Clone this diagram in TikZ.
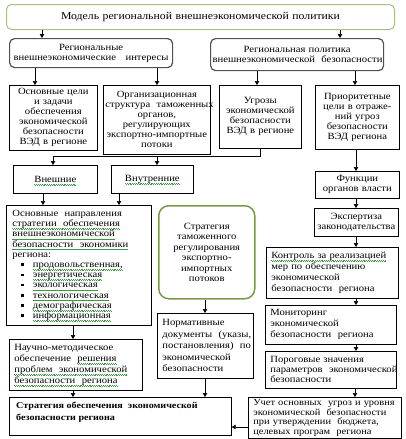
\documentclass[tikz,border=0pt]{standalone}
\usepackage{fontspec}
\setmainfont[FakeStretch=1.12]{Liberation Serif}
\usetikzlibrary{arrows.meta,calc}
\definecolor{wavegreen}{HTML}{3C9A3C}
\definecolor{olivebox}{HTML}{7A9A48}
\definecolor{lightolive}{HTML}{A8BF88}
\definecolor{roundgray}{HTML}{505050}
\newsavebox\gwbox
\newcommand\gw[1]{\leavevmode\sbox\gwbox{#1}\rlap{\raisebox{0pt}[0pt][0pt]{\textcolor{wavegreen}{\hbox to \wd\gwbox{\xleaders\hbox{\rule[-2.3pt]{0.9pt}{0.5pt}\rule[-2.9pt]{0.9pt}{0.5pt}}\hfil}}}}\usebox\gwbox}
\newcommand\bul{\hspace*{9pt}\rule[1.5pt]{2.6pt}{2.6pt}\hspace{9pt}}
\newcommand\fs{\fontsize{9.5}{10}\selectfont}
\begin{document}
\begin{tikzpicture}[x=1pt,y=-1pt,
  box/.style={draw, line width=0.7pt, anchor=north west, inner sep=2pt, align=center, font=\fs},
  lbox/.style={box, align=left, inner xsep=5pt},
  rbox/.style={box, rounded corners=5pt, draw=roundgray, line width=1.2pt},
  arr/.style={-{Triangle[length=4pt,width=4.5pt]}, line width=0.7pt}]
\useasboundingbox (0,0) rectangle (405,439);
\fill[white] (0,0) rectangle (405,439);

\node[box, rounded corners=5pt, draw=lightolive, line width=1pt, minimum width=388pt, text width=384pt, minimum height=25pt, font=\fontsize{10.5}{12}\selectfont] (title) at (6,4) {Модель региональной внешнеэкономической политики};

\node[rbox, minimum width=163pt, text width=159pt, minimum height=29pt] (ri) at (9,38) {Региональные\\внешнеэкономические~~ интересы};
\node[rbox, minimum width=173pt, text width=169pt, minimum height=32pt] (rp) at (210,38) {Региональная политика\\внешнеэкономической~ безопасности};

\node[box, minimum width=88pt, text width=84pt, minimum height=65pt] (goals) at (9,85) {Основные цели\\и задачи\\обеспечения\\экономической\\безопасности\\ВЭД в регионе};
\node[box, minimum width=107pt, text width=103pt, minimum height=69pt] (org) at (103,85) {Организационная\\структура~ таможенных\\органов,\\регулирующих\\экспортно-импортные\\потоки};
\node[box, minimum width=82pt, text width=78pt, minimum height=63pt] (thr) at (219,85) {Угрозы\\экономической\\безопасности\\ВЭД в регионе};
\node[box, minimum width=84pt, text width=80pt, minimum height=64pt] (prio) at (315,85) {Приоритетные\\цели в отраже-\\ний угроз\\безопасности\\ВЭД региона};

\node[box, minimum width=84pt, text width=80pt, minimum height=28pt, yshift=0pt] (ext) at (13,165) {\gw{Внешние}};
\node[box, minimum width=82pt, text width=78pt, minimum height=28pt] (int) at (111,165) {\gw{Внутренние}};

\node[lbox, inner xsep=6pt, minimum width=145pt, text width=133pt, minimum height=120pt, font=\fontsize{9.5}{10.2}\selectfont] (dirs) at (6,205) {Основные~ направления\\\gw{стратегии~ обеспечения}\\\gw{внешнеэкономической}\\\gw{безопасности~ экономики}\\региона:\\\bul\gw{продовольственная,}\\\bul\gw{энергетическая}\\\bul\gw{экологическая}\\\bul\gw{технологическая}\\\bul\gw{демографическая}\\\bul\gw{информационная}};

\node[lbox, minimum width=133pt, text width=123pt, minimum height=51pt, font=\fontsize{9.5}{11}\selectfont] (sci) at (9,339) {Научно-методическое\\обеспечение~ \gw{решения}\\\gw{проблем~ экономической}\\\gw{безопасности~ региона}};

\node[draw, line width=0.7pt, anchor=north west, minimum width=222pt, minimum height=38pt, inner sep=0pt] (strat) at (9,397) {};
\node[anchor=north west, align=left, inner sep=0pt, font=\fontsize{9}{12}\selectfont\bfseries] (strattext) at ([xshift=7pt,yshift=-5pt]strat.north west) {Стратегия обеспечения~ экономической\\безопасности региона};

\node[box, rounded corners=10pt, draw=olivebox, line width=1.5pt, minimum width=96pt, text width=92pt, minimum height=93pt, font=\fontsize{9.5}{10.5}\selectfont] (green) at (158,205) {Стратегия\\таможенного\\регулирования\\экспортно-\\импортных\\потоков};
\node[lbox, minimum width=96pt, text width=86pt, minimum height=65pt, font=\fontsize{9.5}{11.5}\selectfont] (norm) at (157,313) {Нормативные\\документы~ (указы,\\постановления)~ по\\экономической\\безопасности};

\node[box, minimum width=84pt, text width=80pt, minimum height=27pt] (func) at (315,171) {Функции\\органов власти};
\node[box, minimum width=84pt, text width=80pt, minimum height=28pt] (exp) at (314,208) {Экспертиза\\законодательства};
\node[lbox, minimum width=132pt, text width=122pt, minimum height=51pt, font=\fontsize{9.5}{11}\selectfont] (ctrl) at (266,247) {\gw{Контроль за реализацией}\\мер по обеспечению\\экономической\\безопасности~ региона};
\node[lbox, minimum width=131pt, text width=121pt, minimum height=39pt, font=\fontsize{9.5}{11}\selectfont] (mon) at (265,305) {Мониторинг\\экономической\\безопасности~ региона};
\node[lbox, minimum width=131pt, text width=121pt, minimum height=37pt] (por) at (265,351) {Пороговые значения\\параметров~ экономической\\безопасности};
\node[lbox, minimum width=153pt, text width=143pt, minimum height=41pt, font=\fontsize{9.3}{9.7}\selectfont] (uch) at (248,397) {Учет основных~ угроз и уровня\\экономической~ безопасности\\при утверждении~ бюджета,\\целевых програм~ региона};

% column coordinates
\coordinate (x35) at (35,0);
\coordinate (x42) at (42,0);
\coordinate (x43) at (43,0);
\coordinate (x73) at (73,0);
\coordinate (x119) at (119,0);
\coordinate (x157) at (157,0);
\coordinate (x205) at (205,0);
\coordinate (x257) at (257,0);
\coordinate (x340) at (340,0);
\coordinate (x355) at (355,0);
\coordinate (x356) at (356,0);
\coordinate (y427) at (0,427);
\coordinate (jr) at (260,156);
\coordinate (jl) at (53,156);

\draw[arr] (title.south -| x42) -- (ri.north -| x42);
\draw[arr] (title.south -| x340) -- (rp.north -| x340);
\draw[arr] (ri.south -| x35) -- (goals.north -| x35);
\draw[arr] (ri.south -| x157) -- (org.north -| x157);
\draw[arr] (rp.south -| x257) -- (thr.north -| x257);
\draw[arr] (rp.south -| x355) -- (prio.north -| x355);

\draw[line width=0.7pt] (thr.south -| jr) -- (jr) -- (jl);
\draw[arr] (jl) -- (ext.north -| jl);
\draw[arr] (jl -| x157) -- (int.north -| x157);

\draw[arr] (ext.south -| x43) -- (dirs.north -| x43);
\draw[arr] (int.south -| x119) -- (dirs.north -| x119);
\draw[arr] (dirs.south -| x73) -- (sci.north -| x73);
\draw[arr] (sci.south -| x73) -- (strat.north -| x73);
\draw[arr] (green.south -| x205) -- (norm.north -| x205);
\draw[arr] (norm.south -| x205) -- (strat.north -| x205);

\draw[arr] (prio.south -| x356) -- (func.north -| x356);
\draw[arr] (func.south -| x356) -- (exp.north -| x356);
\draw[arr] (exp.south -| x356) -- (ctrl.north -| x356);
\draw[arr] (ctrl.south -| x356) -- (mon.north -| x356);
\draw[arr] (mon.south -| x356) -- (por.north -| x356);
\draw[arr] (por.south -| x355) -- (uch.north -| x355);
\draw[arr] (uch.west |- y427) -- (strat.east |- y427);
\end{tikzpicture}
\end{document}
